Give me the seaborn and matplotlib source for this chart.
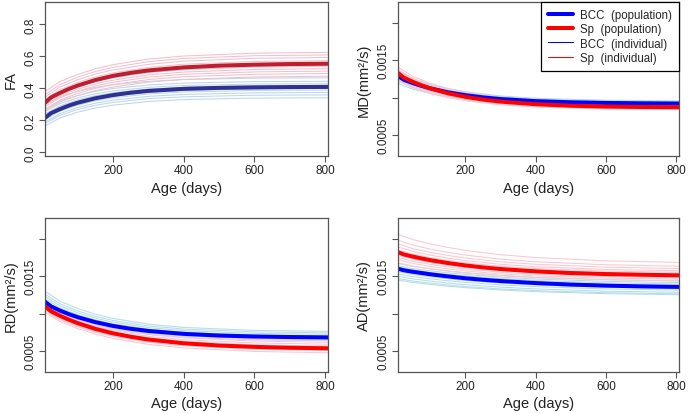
import matplotlib
matplotlib.use('Agg')
import matplotlib.pyplot as plt
import pandas as pd
import seaborn as sns
from matplotlib.lines import Line2D

ages_pop = [8, 25, 50, 75, 100, 150, 200, 250, 300, 400, 500, 600, 700, 808]
ages_ind = [8, 50, 100, 150, 200, 300, 400, 600, 808]

# FA
fa_bcc_pop = [0.215, 0.245, 0.270, 0.292, 0.310, 0.338, 0.358, 0.373, 0.384, 0.397, 0.403, 0.406, 0.408, 0.409]
fa_sp_pop = [0.310, 0.343, 0.371, 0.396, 0.417, 0.452, 0.478, 0.497, 0.512, 0.531, 0.542, 0.548, 0.552, 0.554]
fa_bcc_ind = [
    [0.300, 0.347, 0.381, 0.406, 0.423, 0.444, 0.455, 0.464, 0.466],
    [0.270, 0.320, 0.355, 0.381, 0.399, 0.421, 0.433, 0.442, 0.444],
    [0.255, 0.305, 0.340, 0.366, 0.384, 0.406, 0.418, 0.427, 0.429],
    [0.240, 0.291, 0.328, 0.354, 0.372, 0.396, 0.407, 0.417, 0.419],
    [0.230, 0.281, 0.318, 0.344, 0.362, 0.386, 0.397, 0.407, 0.409],
    [0.215, 0.267, 0.305, 0.332, 0.351, 0.375, 0.387, 0.397, 0.399],
    [0.205, 0.257, 0.295, 0.322, 0.341, 0.365, 0.377, 0.387, 0.389],
    [0.190, 0.242, 0.280, 0.307, 0.326, 0.350, 0.362, 0.372, 0.374],
    [0.180, 0.231, 0.268, 0.294, 0.312, 0.336, 0.347, 0.357, 0.359],
    [0.165, 0.215, 0.251, 0.277, 0.295, 0.318, 0.330, 0.339, 0.341],
]
fa_sp_ind = [
    [0.380, 0.442, 0.487, 0.522, 0.548, 0.583, 0.602, 0.620, 0.625],
    [0.360, 0.423, 0.470, 0.505, 0.531, 0.567, 0.587, 0.604, 0.609],
    [0.345, 0.408, 0.454, 0.489, 0.515, 0.550, 0.570, 0.588, 0.593],
    [0.330, 0.391, 0.437, 0.471, 0.497, 0.531, 0.551, 0.568, 0.573],
    [0.320, 0.380, 0.424, 0.458, 0.483, 0.517, 0.536, 0.553, 0.558],
    [0.310, 0.368, 0.410, 0.442, 0.466, 0.499, 0.517, 0.533, 0.538],
    [0.295, 0.353, 0.395, 0.427, 0.451, 0.484, 0.502, 0.518, 0.523],
    [0.285, 0.341, 0.383, 0.415, 0.438, 0.470, 0.488, 0.503, 0.508],
    [0.270, 0.326, 0.368, 0.400, 0.423, 0.455, 0.473, 0.488, 0.493],
    [0.260, 0.315, 0.355, 0.386, 0.408, 0.439, 0.456, 0.471, 0.476],
]

# MD (x 1e-3 mm2/s)
md_bcc_pop = [1.290, 1.239, 1.196, 1.158, 1.125, 1.073, 1.034, 1.005, 0.983, 0.955, 0.940, 0.931, 0.926, 0.923]
md_sp_pop = [1.330, 1.267, 1.213, 1.166, 1.125, 1.060, 1.012, 0.976, 0.949, 0.914, 0.894, 0.883, 0.877, 0.874]
md_bcc_ind = [
    [1.36, 1.257, 1.180, 1.123, 1.080, 1.024, 0.993, 0.967, 0.959],
    [1.33, 1.232, 1.159, 1.104, 1.064, 1.011, 0.982, 0.956, 0.948],
    [1.31, 1.214, 1.143, 1.090, 1.050, 0.999, 0.971, 0.946, 0.938],
    [1.28, 1.189, 1.122, 1.072, 1.034, 0.986, 0.959, 0.935, 0.928],
    [1.26, 1.172, 1.106, 1.058, 1.021, 0.974, 0.948, 0.925, 0.918],
    [1.24, 1.155, 1.091, 1.044, 1.008, 0.962, 0.937, 0.915, 0.908],
    [1.22, 1.138, 1.078, 1.032, 0.999, 0.955, 0.930, 0.909, 0.903],
    [1.19, 1.114, 1.057, 1.014, 0.982, 0.941, 0.919, 0.899, 0.893],
]
md_sp_ind = [
    [1.41, 1.285, 1.192, 1.123, 1.071, 1.004, 0.967, 0.934, 0.924],
    [1.38, 1.259, 1.169, 1.102, 1.051, 0.986, 0.950, 0.919, 0.909],
    [1.36, 1.240, 1.151, 1.085, 1.035, 0.970, 0.935, 0.904, 0.894],
    [1.34, 1.223, 1.135, 1.070, 1.022, 0.959, 0.924, 0.893, 0.884],
    [1.32, 1.205, 1.120, 1.056, 1.009, 0.947, 0.913, 0.883, 0.874],
    [1.29, 1.180, 1.099, 1.038, 0.992, 0.934, 0.901, 0.872, 0.864],
    [1.26, 1.155, 1.078, 1.020, 0.976, 0.920, 0.889, 0.862, 0.854],
    [1.23, 1.131, 1.056, 1.001, 0.960, 0.907, 0.877, 0.851, 0.844],
]

# RD (x 1e-3 mm2/s)
rd_bcc_pop = [1.160, 1.098, 1.043, 0.996, 0.955, 0.889, 0.838, 0.800, 0.771, 0.732, 0.710, 0.697, 0.690, 0.685]
rd_sp_pop = [1.100, 1.033, 0.974, 0.922, 0.876, 0.799, 0.740, 0.694, 0.657, 0.607, 0.577, 0.559, 0.547, 0.540]
rd_bcc_ind = [
    [1.30, 1.169, 1.070, 0.995, 0.938, 0.862, 0.818, 0.779, 0.766],
    [1.26, 1.134, 1.038, 0.966, 0.911, 0.838, 0.796, 0.759, 0.746],
    [1.23, 1.106, 1.013, 0.942, 0.888, 0.816, 0.775, 0.738, 0.726],
    [1.20, 1.079, 0.987, 0.918, 0.865, 0.795, 0.754, 0.718, 0.706],
    [1.17, 1.053, 0.966, 0.899, 0.848, 0.781, 0.742, 0.707, 0.695],
    [1.15, 1.035, 0.948, 0.882, 0.831, 0.765, 0.726, 0.692, 0.680],
    [1.12, 1.006, 0.920, 0.854, 0.805, 0.739, 0.701, 0.667, 0.655],
    [1.10, 0.987, 0.902, 0.837, 0.788, 0.723, 0.685, 0.652, 0.640],
]
rd_sp_ind = [
    [1.14, 1.030, 0.944, 0.876, 0.824, 0.752, 0.708, 0.665, 0.649],
    [1.12, 1.007, 0.920, 0.851, 0.798, 0.724, 0.679, 0.636, 0.619],
    [1.10, 0.986, 0.898, 0.828, 0.775, 0.700, 0.655, 0.611, 0.594],
    [1.08, 0.965, 0.876, 0.805, 0.751, 0.676, 0.630, 0.586, 0.569],
    [1.06, 0.945, 0.856, 0.785, 0.731, 0.656, 0.610, 0.566, 0.549],
    [1.05, 0.933, 0.842, 0.770, 0.715, 0.638, 0.592, 0.547, 0.530],
    [1.04, 0.921, 0.828, 0.755, 0.699, 0.620, 0.573, 0.527, 0.510],
    [1.02, 0.898, 0.804, 0.730, 0.672, 0.593, 0.544, 0.498, 0.480],
]

# AD (x 1e-3 mm2/s)
ad_bcc_pop = [1.600, 1.579, 1.560, 1.543, 1.526, 1.498, 1.473, 1.453, 1.436, 1.409, 1.389, 1.375, 1.365, 1.358]
ad_sp_pop = [1.820, 1.790, 1.762, 1.737, 1.714, 1.676, 1.644, 1.618, 1.596, 1.565, 1.543, 1.529, 1.520, 1.512]
ad_bcc_ind = [
    [1.67, 1.632, 1.599, 1.572, 1.548, 1.512, 1.486, 1.454, 1.437],
    [1.64, 1.603, 1.572, 1.546, 1.523, 1.488, 1.463, 1.432, 1.416],
    [1.62, 1.583, 1.552, 1.526, 1.503, 1.468, 1.443, 1.412, 1.396],
    [1.60, 1.563, 1.532, 1.506, 1.483, 1.448, 1.423, 1.392, 1.376],
    [1.58, 1.543, 1.512, 1.486, 1.463, 1.428, 1.403, 1.372, 1.356],
    [1.56, 1.523, 1.492, 1.466, 1.443, 1.408, 1.383, 1.352, 1.336],
    [1.53, 1.495, 1.465, 1.440, 1.418, 1.385, 1.361, 1.331, 1.316],
    [1.50, 1.465, 1.435, 1.410, 1.388, 1.355, 1.331, 1.301, 1.286],
    [1.47, 1.436, 1.408, 1.384, 1.363, 1.331, 1.308, 1.280, 1.265],
    [1.45, 1.418, 1.391, 1.367, 1.348, 1.317, 1.295, 1.268, 1.254],
]
ad_sp_ind = [
    [2.06, 1.989, 1.931, 1.884, 1.845, 1.787, 1.749, 1.705, 1.685],
    [1.98, 1.915, 1.861, 1.818, 1.782, 1.728, 1.693, 1.653, 1.634],
    [1.93, 1.868, 1.818, 1.777, 1.743, 1.692, 1.659, 1.621, 1.603],
    [1.89, 1.830, 1.781, 1.741, 1.708, 1.659, 1.627, 1.590, 1.573],
    [1.85, 1.794, 1.748, 1.710, 1.679, 1.633, 1.603, 1.568, 1.552],
    [1.81, 1.758, 1.714, 1.679, 1.650, 1.607, 1.579, 1.546, 1.531],
    [1.78, 1.728, 1.684, 1.649, 1.620, 1.577, 1.549, 1.516, 1.501],
    [1.75, 1.699, 1.658, 1.624, 1.596, 1.554, 1.527, 1.495, 1.481],
    [1.72, 1.671, 1.631, 1.598, 1.571, 1.531, 1.505, 1.475, 1.461],
    [1.68, 1.635, 1.598, 1.567, 1.542, 1.505, 1.481, 1.453, 1.440],
]

legend_labels = ['BCC  (population)', 'Sp  (population)', 'BCC  (individual)', 'Sp  (individual)']

sns.set_style('white')
plt.rcParams['font.family'] = ['Liberation Sans', 'DejaVu Sans']


def to_long(curves, ages, group, scale):
    rows = []
    for i, c in enumerate(curves):
        for a, v in zip(ages, c):
            rows.append((a, v * scale, group, group + str(i)))
    return rows


def draw_panel(ax, bcc_pop, sp_pop, bcc_ind, sp_ind, scale, pop_cols, ind_cols):
    cols = ['age', 'value', 'group', 'subject']
    ind = pd.DataFrame(to_long(bcc_ind, ages_ind, 'BCC', scale) + to_long(sp_ind, ages_ind, 'Sp', scale), columns=cols)
    pop = pd.DataFrame(to_long([bcc_pop], ages_pop, 'BCC', scale) + to_long([sp_pop], ages_pop, 'Sp', scale), columns=cols)
    sns.lineplot(data=ind, x='age', y='value', hue='group', hue_order=['BCC', 'Sp'], units='subject',
                 estimator=None, palette=dict(zip(['BCC', 'Sp'], ind_cols)), lw=0.75, legend=False, ax=ax)
    sns.lineplot(data=pop, x='age', y='value', hue='group', hue_order=['BCC', 'Sp'], units='subject',
                 estimator=None, palette=dict(zip(['BCC', 'Sp'], pop_cols)), lw=2.9, legend=False, ax=ax)

    ax.set_xlim(8, 808)
    ax.set_xticks([200, 400, 600, 800])
    ax.set_xlabel('Age (days)', fontsize=10.5, color='#222222', labelpad=3)
    for s in ax.spines.values():
        s.set_color('#555555')
        s.set_linewidth(0.9)
    ax.tick_params(direction='out', length=4, width=0.8, color='#555555', labelsize=8.5,
                   labelcolor='#222222', pad=2, left=True, bottom=True)
    ax.tick_params(axis='y', labelrotation=90)


fig = plt.figure(figsize=(6.9, 4.14), dpi=100)
ax1 = fig.add_axes([45 / 690, 1 - 157 / 414, 283 / 690, 154 / 414])
ax2 = fig.add_axes([398 / 690, 1 - 157 / 414, 281 / 690, 154 / 414])
ax3 = fig.add_axes([45 / 690, 1 - 373 / 414, 283 / 690, 154 / 414])
ax4 = fig.add_axes([398 / 690, 1 - 373 / 414, 281 / 690, 154 / 414])

fa_pop_cols = ['#2E3192', '#BE1E2D']
fa_ind_cols = ['#BCD6EA', '#F0C0CD']
d_pop_cols = ['#0000FF', '#FF0000']
d_ind_cols = ['#B4DCE8', '#FCC6D0']

draw_panel(ax1, fa_bcc_pop, fa_sp_pop, fa_bcc_ind, fa_sp_ind, 1.0, fa_pop_cols, fa_ind_cols)
draw_panel(ax2, md_bcc_pop, md_sp_pop, md_bcc_ind, md_sp_ind, 1e-3, d_pop_cols, d_ind_cols)
draw_panel(ax3, rd_bcc_pop, rd_sp_pop, rd_bcc_ind, rd_sp_ind, 1e-3, d_pop_cols, d_ind_cols)
draw_panel(ax4, ad_bcc_pop, ad_sp_pop, ad_bcc_ind, ad_sp_ind, 1e-3, d_pop_cols, d_ind_cols)

ax1.set_ylim(-0.023, 0.94)
ax1.set_yticks([0.0, 0.2, 0.4, 0.6, 0.8])
ax1.set_yticklabels(['0.0', '0.2', '0.4', '0.6', '0.8'])
ax1.set_ylabel('FA', fontsize=10.5, color='#222222', labelpad=5)

for ax, name in [(ax2, 'MD'), (ax3, 'RD'), (ax4, 'AD')]:
    ax.set_ylim(0.000224, 0.002276)
    ax.set_yticks([0.0005, 0.001, 0.0015, 0.002])
    ax.set_yticklabels(['0.0005', '', '0.0015', ''])
    ax.set_ylabel(name + '(mm²/s)', fontsize=10.5, color='#222222', labelpad=5)

for ax in [ax1, ax2, ax3, ax4]:
    for lab in ax.get_yticklabels():
        lab.set_va('center')

handles = [Line2D([], [], color='#0000FF', lw=2.9), Line2D([], [], color='#FF0000', lw=2.9),
           Line2D([], [], color='#0000FF', lw=0.75), Line2D([], [], color='#FF0000', lw=0.75)]
leg = ax2.legend(handles, legend_labels, loc='upper right', bbox_to_anchor=(1, 1), borderaxespad=0,
                 frameon=True, fancybox=False, edgecolor='black', framealpha=1, fontsize=8.3,
                 handlelength=2.2, handletextpad=0.6, borderpad=0.6, labelspacing=0.2)
leg.get_frame().set_linewidth(0.9)

fig.savefig('out.png', dpi=100)
